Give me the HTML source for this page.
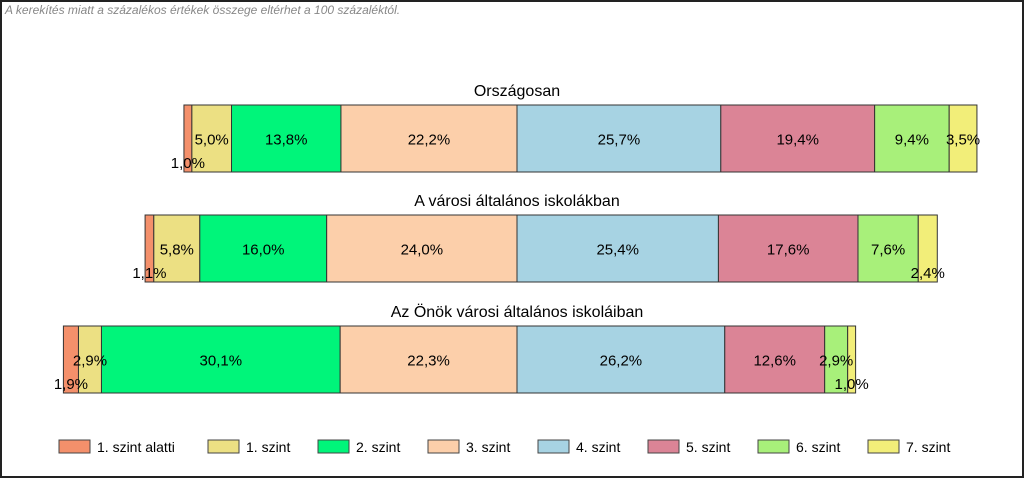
<!DOCTYPE html>
<html><head><meta charset="utf-8"><style>
html,body{margin:0;padding:0;background:#fff}
#wrap{position:relative;width:1020px;height:474px;border:2px solid #222;overflow:hidden;font-family:"Liberation Sans",Arial,sans-serif}
#note{position:absolute;left:3px;top:1px;font-size:12px;font-style:italic;color:#888}
svg{position:absolute;left:-2px;top:-2px}
</style></head><body>
<div id="wrap">
<div id="note">A kerekítés miatt a  százalékos értékek összege eltérhet a 100 százaléktól.</div>
<svg id="chart" width="1024" height="478"></svg>
</div>
<script>
const categories = ["Országosan","A városi általános iskolákban","Az Önök városi általános iskoláiban"];
const seriesNames = ["1. szint alatti","1. szint","2. szint","3. szint","4. szint","5. szint","6. szint","7. szint"];
const row1 = [1.0,5.0,13.8,22.2,25.7,19.4,9.4,3.5];
const row2 = [1.1,5.8,16.0,24.0,25.4,17.6,7.6,2.4];
const row3 = [1.9,2.9,30.1,22.3,26.2,12.6,2.9,1.0];
const rows = [row1,row2,row3];
const colors = ["#F4906B","#ECE083","#00F57A","#FCCFAA","#A7D3E3","#DB8496","#A8F07A","#F2EE79"];
const NS="http://www.w3.org/2000/svg";
const svg=document.getElementById('chart');
const center=517, scale=7.93;
const xOf=v=>center+v*scale;
const barTops=[105,215,326], barH=67;
function mk(t,a){const e=document.createElementNS(NS,t);for(const k in a)e.setAttribute(k,a[k]);svg.appendChild(e);return e;}
rows.forEach((vals,r)=>{
  const before=vals[0]+vals[1]+vals[2]+vals[3];
  let cum=-before;
  const y=barTops[r];
  const t=mk('text',{x:center,y:y-9,'text-anchor':'middle','font-size':16,fill:'#000'});
  t.textContent=categories[r];
  
  
  const labels=[];
  vals.forEach((v,i)=>{
    const x0=xOf(cum), x1=xOf(cum+v);
    const rc=mk('rect',{x:x0,y:y,width:x1-x0,height:barH,fill:colors[i],stroke:'#333','stroke-width':1});
    
    
    const below=v<2.5;
    labels.push({x:(x0+x1)/2,y:below?y+barH-4:y+barH/2+6,s:v.toFixed(1).replace('.',',')+'%'});
    cum+=v;
  });
  labels.forEach(l=>{
    const lt=mk('text',{x:l.x,y:l.y,'text-anchor':'middle','font-size':15,fill:'#000'});
    lt.textContent=l.s;
    
    
  });
});
const legX=[59,208,318,428,538,648,758,868];
seriesNames.forEach((n,i)=>{
  const sw=mk('rect',{x:legX[i],y:440,width:31,height:13,fill:colors[i],stroke:'#444','stroke-width':1});
  
  
  const lt=mk('text',{x:legX[i]+38,y:452,'font-size':14,fill:'#000'});
  lt.textContent=n;
  
  
});
</script>
</body></html>
